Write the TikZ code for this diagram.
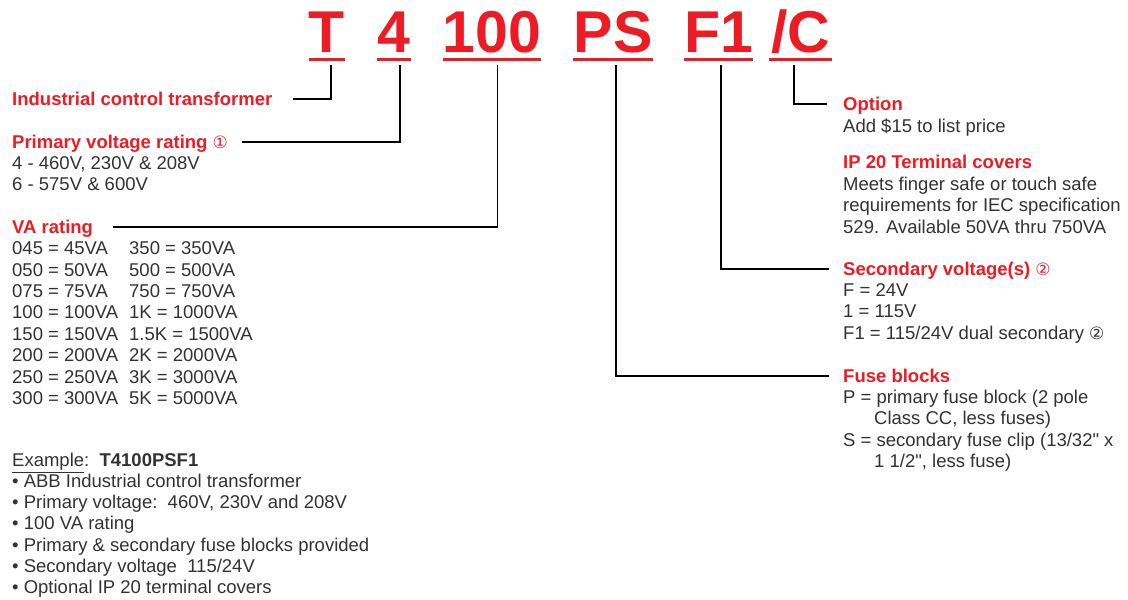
\documentclass[tikz,border=0pt]{standalone}
\usepackage{fontspec}
\setmainfont{Liberation Sans}[Ligatures=TeXOff]
\newfontfamily\symfont{DejaVu Sans}
\usetikzlibrary{positioning}
\definecolor{abbred}{RGB}{237,28,36}
\definecolor{txtgray}{RGB}{50,50,50}
\newcommand{\circnum}[1]{{\symfont\mdseries\fontsize{17}{17}\selectfont #1}}

\begin{document}
\begin{tikzpicture}[x=1pt,y=-1pt,
  code/.style={anchor=base,font=\fontsize{59}{59}\selectfont\bfseries,text=abbred,
    inner sep=0pt,text height=44pt,text depth=7.5pt},
  head/.style={anchor=base west,font=\fontsize{18.5}{21.4}\selectfont\bfseries,text=abbred,
    inner sep=0pt,text height=13pt,text depth=0pt},
  % multi-line nodes: base = baseline of the last line
  body/.style={anchor=base west,align=left,font=\fontsize{18.5}{21.4}\selectfont,
    text=txtgray,inner sep=0pt},
  lead/.style={draw=black,line width=1.1pt},
  uline/.style={draw=abbred,line width=2.5pt}
]
\useasboundingbox (0,0) rectangle (1128,600);

% catalogue number
\node[code,minimum width=36pt] (cT) at (327,52) {T};
\node[code,minimum width=32pt] (cFour) at (394,52) {4};
\node[code,minimum width=98pt] (cVA) at (492,52) {100};
\node[code,minimum width=78pt] (cPS) at (613,52) {PS};
\node[code,minimum width=67pt] (cFone) at (718.5,52) {F1};
\node[code,minimum width=63pt] (cOpt) at (800.5,52) {/C};
\foreach \c in {cT,cFour,cVA,cPS,cFone,cOpt}
  \draw[uline] (\c.south west) -- (\c.south east);

% left column
\node[head] (ind) at (12,105.5) {Industrial control transformer};
\node[head] (pvh) at (12,148.5) {Primary voltage rating \circnum{①}};
\node[body] (pvb) at (12,190.9) {4 - 460V, 230V \& 208V\\6 - 575V \& 600V};
\node[head] (vah) at (12,233.5) {VA rating};
\node[body] (vaA) at (12,404.5) {045 = 45VA\\050 = 50VA\\075 = 75VA\\100 = 100VA\\150 = 150VA\\200 = 200VA\\250 = 250VA\\300 = 300VA};
\node[body] (vaB) at (129,404.5) {350 = 350VA\\500 = 500VA\\750 = 750VA\\1K = 1000VA\\1.5K = 1500VA\\2K = 2000VA\\3K = 3000VA\\5K = 5000VA};
\node[body] (exh) at (12,466.5) {\underline{Example}:\ \ \textbf{T4100PSF1}};
\node[body,font=\fontsize{18.5}{21.2}\selectfont] (exb) at (12,593.5) {%
  • ABB Industrial control transformer\\
  • Primary voltage:\ \ 460V, 230V and 208V\\
  • 100 VA rating\\
  • Primary \& secondary fuse blocks provided\\
  • Secondary voltage\ \ 115/24V\\
  • Optional IP 20 terminal covers};

% right column
\node[head] (opth) at (843,110.5) {Option};
\node[body] (optb) at (843,132.5) {Add \$15 to list price};
\node[head] (iph) at (843,168.5) {IP 20 Terminal covers};
\node[body] (ipb) at (843,233.3) {Meets finger safe or touch safe\\requirements for IEC specification\\529. Available 50VA thru 750VA};
\node[head] (sech) at (843,275.5) {Secondary voltage(s) \circnum{②}};
\node[body] (secb) at (843,339.3) {F = 24V\\1 = 115V\\F1 = 115/24V dual secondary \circnum{②}};
\node[head] (fuh) at (843,382.5) {Fuse blocks};
\node[body] (fub) at (843,467.7) {P = primary fuse block (2 pole\\\hspace*{31pt}Class CC, less fuses)\\S = secondary fuse clip (13/32" x\\\hspace*{31pt}1 1/2", less fuse)};

% leaders
\draw[lead] ([xshift=4pt,yshift=-5pt]cT.south) |- ([xshift=21pt]ind.east);
\draw[lead] ([xshift=6pt,yshift=-5pt]cFour.south) |- ([xshift=14pt]pvh.east);
\draw[lead] ([xshift=5.5pt,yshift=-5pt]cVA.south) |- ([xshift=20pt]vah.east);
\draw[lead] ([xshift=3pt,yshift=-5pt]cPS.south) |- ([xshift=-14pt]fuh.west);
\draw[lead] ([xshift=2.5pt,yshift=-5pt]cFone.south) |- ([xshift=-14pt]sech.west);
\draw[lead] ([xshift=-6.5pt,yshift=-5pt]cOpt.south) |- ([xshift=-16pt]opth.west);
\end{tikzpicture}
\end{document}
